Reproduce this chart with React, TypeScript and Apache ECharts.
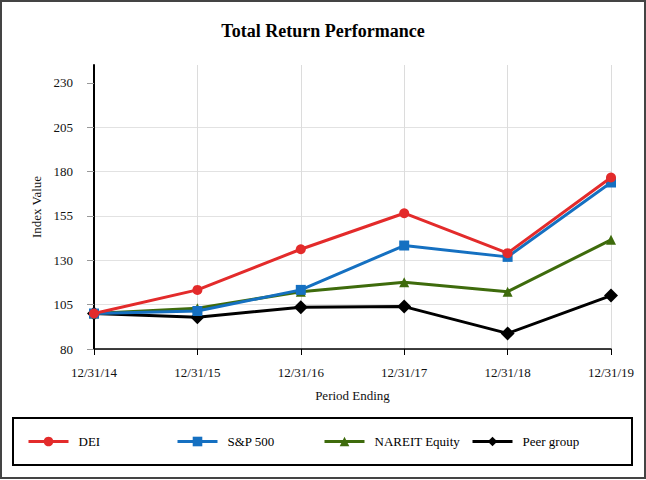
import React, { useEffect, useRef } from "react";
import * as echarts from "echarts";

const categories = ["12/31/14", "12/31/15", "12/31/16", "12/31/17", "12/31/18", "12/31/19"];
const dei = [100, 113.3, 136.2, 156.5, 134.0, 176.6];
const sp500 = [100, 101.4, 113.3, 138.3, 131.9, 173.8];
const nareit = [100, 103.0, 112.3, 117.6, 112.3, 141.5];
const peer = [100, 97.9, 103.5, 103.9, 88.8, 110.1];
const yTicks = [80, 105, 130, 155, 180, 205, 230];
const seriesNames = ["DEI", "S&P 500", "NAREIT Equity", "Peer group"];

const FONT = "Liberation Serif";

export default function App() {
  const ref = useRef<HTMLDivElement>(null);
  useEffect(() => {
    if (!ref.current) return;
    const chart = echarts.init(ref.current, null, { renderer: "svg" });
    const colors = ["#e32b2b", "#1570c1", "#3e6b0c", "#000000"];
    const symbols = ["circle", "rect", "triangle", "diamond"];
    const sizes = [10, 10, 10, 14];
    const datas = [dei, sp500, nareit, peer];
    const legendLefts = [27, 176, 323, 471];
    chart.setOption({
      animation: false,
      backgroundColor: "#ffffff",
      textStyle: { fontFamily: FONT },
      title: {
        text: "Total Return Performance",
        left: "center",
        top: 17,
        textStyle: { fontFamily: FONT, fontSize: 18, fontWeight: "bold", color: "#000" },
      },
      grid: { left: 94, right: 35, top: 65, bottom: 131, containLabel: false },
      legend: seriesNames.map((n, i) => ({
        data: [n],
        left: legendLefts[i],
        top: 435,
        padding: 0,
        itemWidth: 40,
        itemHeight: 12,
        lineStyle: { width: 3 },
        textStyle: { fontFamily: FONT, fontSize: 13, color: "#000", padding: [0, 0, 0, 5] },
      })),
      xAxis: {
        type: "category",
        data: categories,
        boundaryGap: false,
        name: "Period Ending",
        nameLocation: "middle",
        nameGap: 40,
        nameTextStyle: { fontFamily: FONT, fontSize: 13, color: "#111" },
        axisLine: { lineStyle: { color: "#000", width: 1.5 } },
        axisTick: { show: true, length: 6, lineStyle: { color: "#000" } },
        axisLabel: { fontFamily: FONT, fontSize: 13, color: "#111", margin: 17 },
        splitLine: { show: true, lineStyle: { color: "#dcdcdc", width: 1 } },
      },
      yAxis: {
        type: "value",
        min: 80,
        max: 240,
        interval: 25,
        name: "Index Value",
        nameLocation: "middle",
        nameGap: 50,
        nameTextStyle: { fontFamily: FONT, fontSize: 13, color: "#111" },
        axisLine: { show: true, lineStyle: { color: "#000", width: 2 } },
        axisTick: { show: true, length: 7, lineStyle: { color: "#999" }, customValues: yTicks },
        axisLabel: { fontFamily: FONT, fontSize: 13, color: "#111", margin: 21, customValues: yTicks },
        splitLine: { show: true, showMaxLine: false, lineStyle: { color: "#e2e2e2", width: 1 } },
      },
      series: seriesNames.map((n, i) => ({
        name: n,
        type: "line",
        data: datas[i],
        symbol: symbols[i],
        symbolSize: sizes[i],
        z: 10 - i,
        lineStyle: { color: colors[i], width: 3 },
        itemStyle: { color: colors[i], borderWidth: 0 },
      })),
      graphic: [
        {
          type: "rect",
          shape: { x: 1, y: 1, width: 644, height: 477 },
          style: { fill: "none", stroke: "#444", lineWidth: 2 },
          silent: true,
        },
        {
          type: "rect",
          shape: { x: 13, y: 418, width: 619, height: 47 },
          style: { fill: "none", stroke: "#000", lineWidth: 2 },
          silent: true,
        },
      ],
    });
    return () => chart.dispose();
  }, []);
  return (
    <div
      ref={ref}
      style={{ position: "fixed", left: 0, top: 0, width: 646, height: 480 }}
    />
  );
}
